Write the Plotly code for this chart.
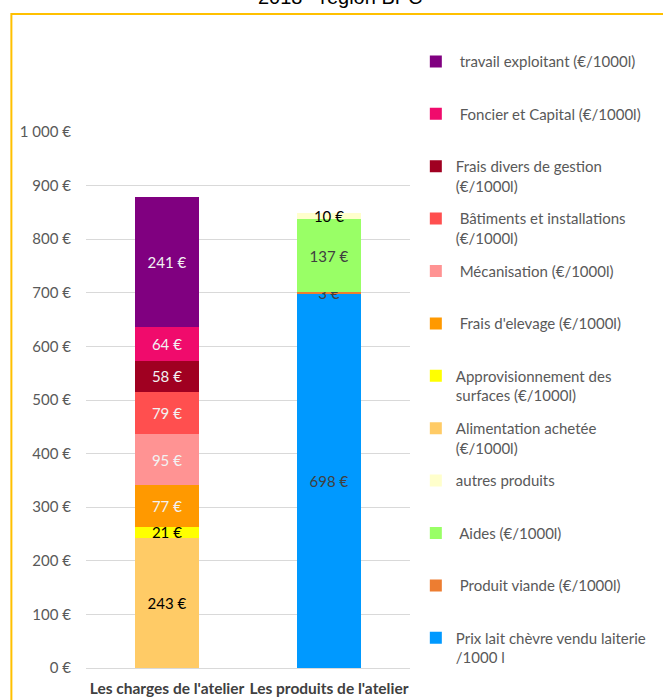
import plotly.graph_objects as go

# categories on the x axis
categories = ["Les charges de l'atelier", "Les produits de l'atelier"]

# series in stacking order (bottom to top); legend shows them reversed
series_names = [
    "Prix lait chèvre vendu laiterie<br>/1000 l",
    " Produit viande (€/1000l)",
    " Aides (€/1000l)",
    "autres produits",
    "Alimentation achetée<br>(€/1000l)",
    "Approvisionnement des<br>surfaces (€/1000l)",
    " Frais d'elevage (€/1000l)",
    " Mécanisation (€/1000l)",
    " Bâtiments et installations<br>(€/1000l)",
    "Frais divers de gestion<br>(€/1000l)",
    " Foncier et Capital (€/1000l)",
    " travail exploitant (€/1000l)",
]
charges_values = [None, None, None, None, 243, 21, 77, 95, 79, 58, 64, 241]
produits_values = [698, 3, 137, 10, None, None, None, None, None, None, None, None]

series_colors = [
    "#0099FF", "#ED7D31", "#99FF66", "#FFFFCC",
    "#FFCB66", "#FFFF00", "#FF9900", "#FF9393",
    "#FF4F4F", "#A00021", "#F00B6C", "#800080",
]
label_colors = [
    "#404040", "#404040", "#404040", "#000000",
    "#000000", "#000000", "#F2F2F2", "#F2F2F2",
    "#F2F2F2", "#F2F2F2", "#F2F2F2", "#F2F2F2",
]

FONT = "Lato, 'Open Sans', sans-serif"

fig = go.Figure()
n = len(series_names)
for i, name in enumerate(series_names):
    # pad single-line legend entries to two lines so items are evenly spaced
    legend_name = name if "<br>" in name else name + "<br> "
    fig.add_trace(go.Bar(
        x=categories,
        y=[charges_values[i], produits_values[i]],
        name=legend_name,
        legendgroup=f"g{i}",
        legendrank=n - i,
        marker=dict(color=series_colors[i], line=dict(width=0)),
        texttemplate="%{y}",
        textposition="inside",
        insidetextanchor="middle",
        constraintext="none",
        textfont=dict(family=FONT, size=15, color=label_colors[i]),
        cliponaxis=False,
        hovertemplate="%{x}: %{y}<extra></extra>",
    ))

# plot area: x 86..416 px, y 132..668 px
fig.update_layout(
    width=663,
    height=700,
    barmode="stack",
    bargap=0.6,
    separators=", ",
    paper_bgcolor="white",
    plot_bgcolor="white",
    font=dict(family=FONT, color="#595959", size=15),
    margin=dict(l=86, r=247, t=132, b=32),
    showlegend=True,
    legend=dict(
        traceorder="grouped",
        tracegroupgap=10.4,
        valign="top",
        x=1.018,
        xanchor="left",
        y=1.162,
        yanchor="top",
        maxheight=700,
        font=dict(family=FONT, size=15, color="#595959"),
        bgcolor="rgba(0,0,0,0)",
    ),
    shapes=[
        dict(
            type="rect", xref="paper", yref="paper",
            x0=-0.2303, x1=2.0, y0=-0.5, y1=1.2201,
            line=dict(color="#FFC000", width=2),
            fillcolor="rgba(0,0,0,0)",
            layer="above",
        )
    ],
    annotations=[
        dict(
            text="2018 - région BPC",
            xref="paper", yref="paper",
            x=0.785, y=1.228,
            xanchor="center", yanchor="bottom",
            showarrow=False,
            font=dict(family="Liberation Sans, Arial, sans-serif", size=20, color="#000000"),
        )
    ],
)
fig.update_xaxes(
    automargin=False,
    showgrid=False,
    showline=False,
    ticks="",
    tickangle=0,
    ticklabelstandoff=9,
    tickfont=dict(family=FONT, size=15.5, color="#404040", weight="bold"),
)
fig.update_yaxes(
    automargin=False,
    range=[0, 1000],
    dtick=100,
    tickformat=",d",
    ticksuffix=" €",
    showgrid=True,
    gridcolor="#D9D9D9",
    gridwidth=1,
    zeroline=True,
    zerolinecolor="#D9D9D9",
    zerolinewidth=1,
    showline=False,
    ticks="",
    ticklabelstandoff=14,
    tickfont=dict(family=FONT, size=15, color="#595959"),
)

# page body margin would shift the fixed-size figure by 8px
fig.write_html(
    "out.html",
    config={"displayModeBar": False},
    post_script="document.body.style.margin='0';",
)
